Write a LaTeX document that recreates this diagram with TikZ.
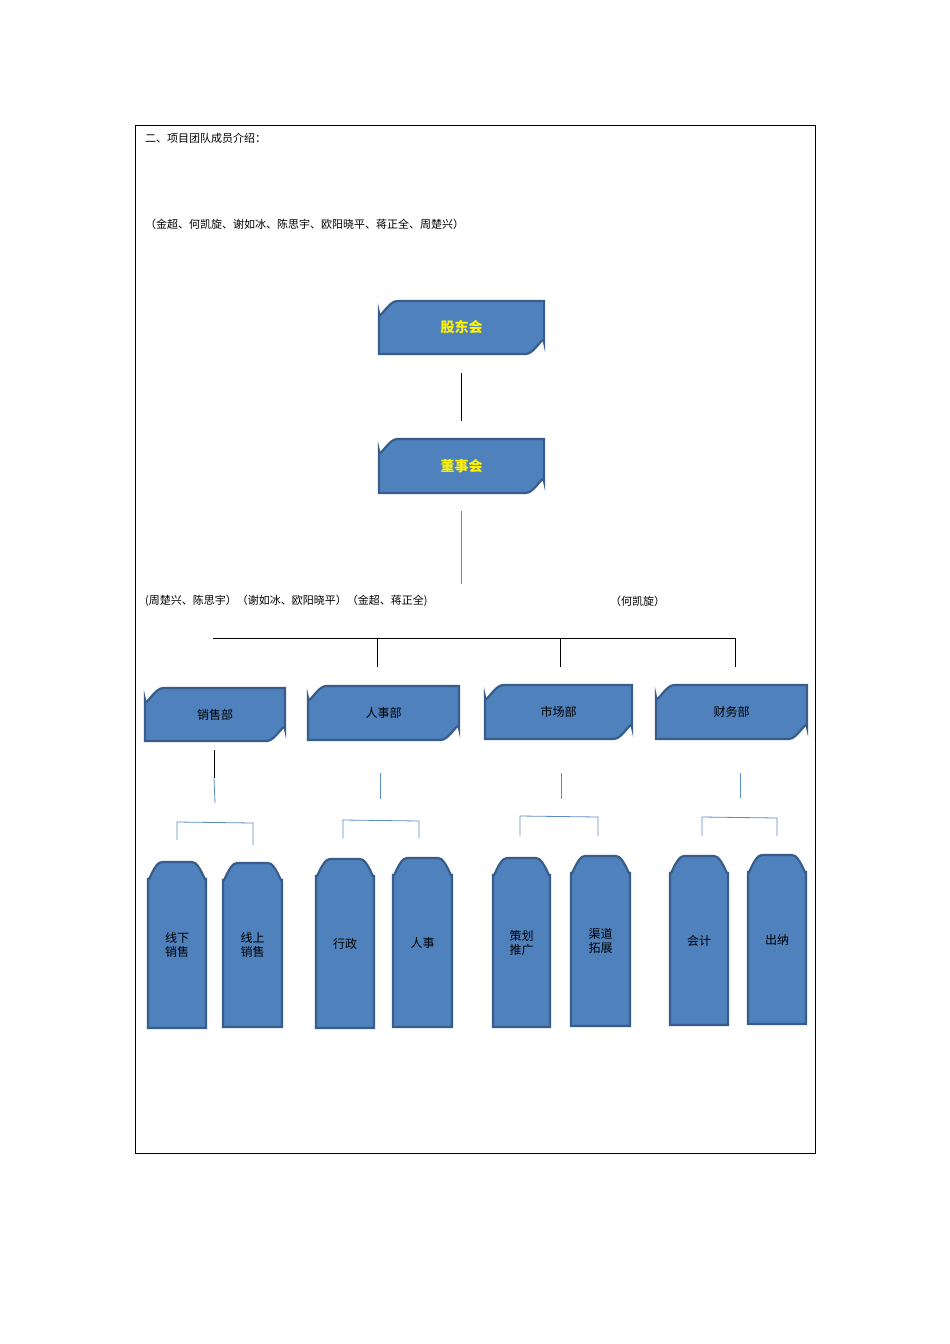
\documentclass[tikz,border=0pt]{standalone}
\usepackage{fontspec}
\newfontfamily\cjk{Noto Sans CJK SC}
\usetikzlibrary{calc}
\definecolor{bfill}{HTML}{4F81BD}
\definecolor{bedge}{HTML}{385D8A}
\definecolor{lblue}{HTML}{5B8BC7}
\tikzset{lbl/.style={font=\cjk\fontsize{11}{13}\selectfont,inner sep=0pt},
 shp/.style={fill=bfill,draw=bedge,line width=2.2pt},
 hdr/.style={font=\cjk\bfseries\fontsize{14}{16}\selectfont,text=yellow},
 dep/.style={font=\cjk\fontsize{12}{14}\selectfont},
 bl/.style={draw=lblue,line width=0.8pt},
 bk/.style={draw=black,line width=0.8pt}}
\newcommand\topbox[6]{% name x1 y1 x2 y2 text
 \draw[shp] (#2,#5) -- (#2,#3+12) to[out=-90,in=180] (#2+18,#3) -- (#4,#3) -- (#4,#5-12) to[out=90,in=0] (#4-18,#5) -- cycle;
 \coordinate (#1) at ({(#2+#4)/2},{(#3+#5)/2});
 \coordinate (#1t) at ({(#2+#4)/2},#3); \coordinate (#1b) at ({(#2+#4)/2},#5);}
\newcommand\pill[6]{%
 \draw[shp] (#2,#5) -- (#2,#3+16) to[out=-90,in=180] (#2+14,#3) -- (#4-14,#3) to[out=0,in=-90] (#4,#3+16) -- (#4,#5) -- cycle;
 \node[dep,align=center] (#1) at ({(#2+#4)/2},{(#3+#5)/2}) {#6};}
\begin{document}
\begin{tikzpicture}[x=1pt,y=-1pt]
\useasboundingbox[fill=white] (0,0) rectangle (950,1344);
\draw[line width=0.7pt] (135,125) rectangle (815,1153);
\node[lbl,anchor=west] (t1) at (145,138) {二、项目团队成员介绍：};
\node[lbl,anchor=west] (t2) at (145,224) {（金超、何凯旋、谢如冰、陈思宇、欧阳晓平、蒋正全、周楚兴）};
\topbox{gd}{379}{301}{544}{354}{}
\node[hdr] (gdt) at (gd) {股东会};
\topbox{ds}{379}{439}{544}{493}{}
\node[hdr] (dst) at (ds) {董事会};
\coordinate (g1) at (461,373); \coordinate (g2) at (461,421);
\draw[bk] (g1) -- (g2);
\coordinate (d1) at (461,511); \coordinate (d2) at (461,584);
\draw[bl] (d1) -- (d2);
\node[lbl,anchor=west] (l1) at (145,601) {(周楚兴、陈思宇）（谢如冰、欧阳晓平）（金超、蒋正全)};
\node[lbl,anchor=west] (l2) at (610,601) {（何凯旋）};
\coordinate (h1) at (213,638); \coordinate (h2) at (736,638);
\draw[bk] (h1) -- (h2);
\foreach \x in {377,560,735}{\draw[bk] (\x,638) -- (\x,667);}
\topbox{s}{145}{688}{285}{741}{} \node[dep] (st) at (s) {销售部};
\topbox{r}{308}{686}{459}{740}{} \node[dep] (rt) at (r) {人事部};
\topbox{m}{485}{685}{632}{739}{} \node[dep] (mt) at (m) {市场部};
\topbox{c}{656}{685}{807}{739}{} \node[dep] (ct) at (c) {财务部};
\draw[bk] (214,750) -- (214,778); \draw[bl] (214,778) -- (215,803);
\draw[bl] (380,773) -- (380,799);
\draw[bl] (561,773) -- (561,799);
\draw[bl] (740,773) -- (740,798);
\draw[bl] (177,840) -- (177,822) -- (253,823) -- (253,845);
\draw[bl] (343,838) -- (343,820) -- (419,821) -- (419,838);
\draw[bl] (520,836) -- (520,816) -- (598,817) -- (598,836);
\draw[bl] (702,836) -- (702,817) -- (777,818) -- (777,836);
\pill{p1}{148}{862}{206}{1028}{线下\\销售}
\pill{p2}{223}{863}{282}{1027}{线上\\销售}
\pill{p3}{316}{859}{374}{1028}{行政}
\pill{p4}{393}{858}{452}{1027}{人事}
\pill{p5}{493}{858}{550}{1027}{策划\\推广}
\pill{p6}{571}{856}{630}{1026}{渠道\\拓展}
\pill{p7}{670}{856}{728}{1025}{会计}
\pill{p8}{748}{855}{806}{1024}{出纳}
\end{tikzpicture}
\end{document}
